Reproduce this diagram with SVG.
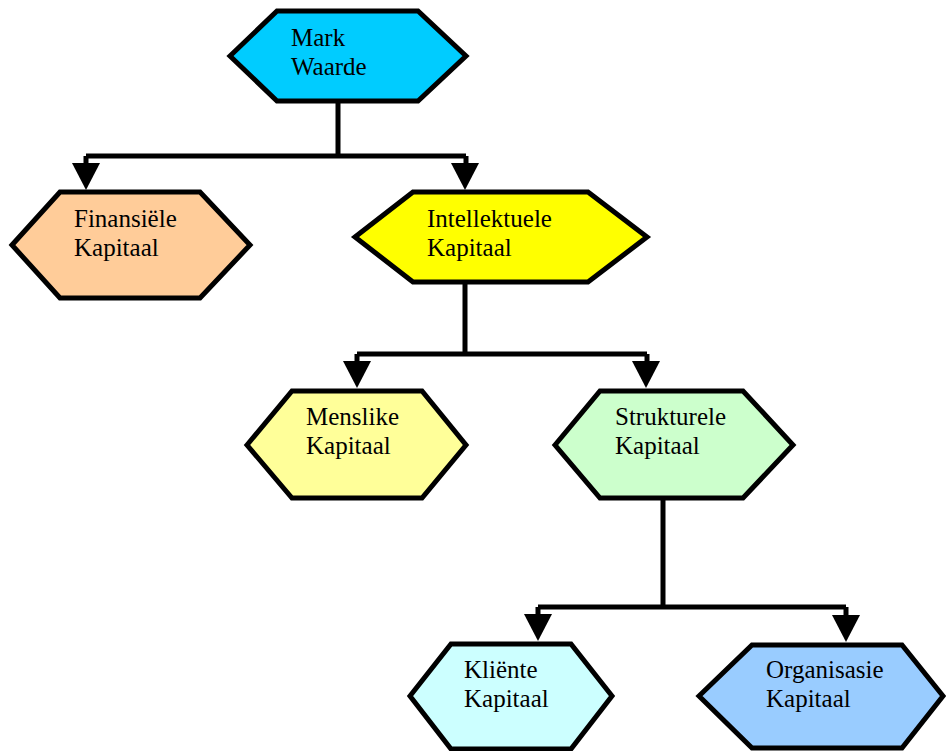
<svg xmlns="http://www.w3.org/2000/svg" width="946" height="751" viewBox="0 0 946 751">
<style>
.hex{stroke:#000;stroke-width:5;stroke-linejoin:miter}
.lbl{font-family:"Liberation Serif","Times New Roman",serif;font-size:25px;fill:#000}
.conn{fill:none;stroke:#000;stroke-width:5}
.ah{fill:#000;stroke:none}
</style>
<rect width="946" height="751" fill="#fff"/>
<g id="connectors">
<path class="conn" d="M338,101 V156 M86,156 H466 M86,156 V165 M466,156 V165"/>
<polygon class="ah" points="72,163 100,163 86,190"/>
<polygon class="ah" points="451,163 479,163 465,190"/>
<path class="conn" d="M465,282 V354 M357,354 H647 M357,354 V364 M647,354 V364"/>
<polygon class="ah" points="343,361 371,361 357,388"/>
<polygon class="ah" points="632,361 660,361 646,388"/>
<path class="conn" d="M663,498 V607 M538,607 H846 M538,607 V616 M846,607 V616"/>
<polygon class="ah" points="524,614 552,614 538,641"/>
<polygon class="ah" points="832,615 860,615 846,642"/>
</g>
<g id="mark-waarde">
<polygon class="hex" fill="#00CCFF" points="230,56 277,11 418,11 466,56 418,101 277,101"/>
<text class="lbl" x="291" y="46">Mark</text>
<text class="lbl" x="291" y="75">Waarde</text>
</g>
<g id="finansiele">
<polygon class="hex" fill="#FFCC99" points="12,245 60,192 200,192 250,245 200,298 60,298"/>
<text class="lbl" x="74" y="227">Finansiële</text>
<text class="lbl" x="74" y="256">Kapitaal</text>
</g>
<g id="intellektuele">
<polygon class="hex" fill="#FFFF00" points="355,237 413,192 588,192 647,237 588,282 413,282"/>
<text class="lbl" x="427" y="227">Intellektuele</text>
<text class="lbl" x="427" y="256">Kapitaal</text>
</g>
<g id="menslike">
<polygon class="hex" fill="#FFFF99" points="247,445 292,391 422,391 466,445 422,498 292,498"/>
<text class="lbl" x="306" y="425">Menslike</text>
<text class="lbl" x="306" y="454">Kapitaal</text>
</g>
<g id="strukturele">
<polygon class="hex" fill="#CCFFCC" points="555,445 600,391 743,391 793,445 743,498 600,498"/>
<text class="lbl" x="615" y="425">Strukturele</text>
<text class="lbl" x="615" y="454">Kapitaal</text>
</g>
<g id="kliente">
<polygon class="hex" fill="#CCFFFF" points="410,696 451,644 571,644 612,696 571,749 451,749"/>
<text class="lbl" x="464" y="678">Kliënte</text>
<text class="lbl" x="464" y="707">Kapitaal</text>
</g>
<g id="organisasie">
<polygon class="hex" fill="#99CCFF" points="699,696 752,645 902,645 943,696 902,748 752,748"/>
<text class="lbl" x="766" y="678">Organisasie</text>
<text class="lbl" x="766" y="707">Kapitaal</text>
</g>
</svg>
